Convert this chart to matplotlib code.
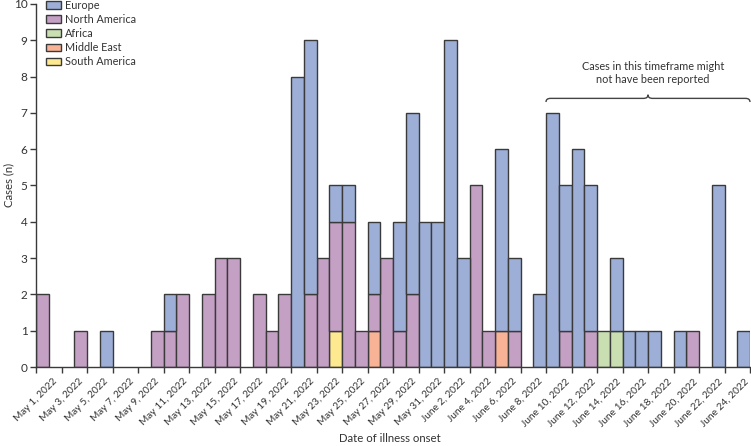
import matplotlib
matplotlib.use("Agg")
import matplotlib.pyplot as plt
from matplotlib.patches import Patch, PathPatch
from matplotlib.path import Path
from matplotlib import font_manager
import numpy as np

# ---------------- data ----------------
n_days = 56  # May 1, 2022 ... June 25, 2022
europe_cases = {5: 1, 10: 1, 20: 8, 21: 7, 23: 1, 24: 1, 26: 2, 28: 3, 29: 5, 30: 4,
                31: 4, 32: 9, 33: 3, 36: 5, 37: 2, 39: 2, 40: 7, 41: 4, 42: 6, 43: 4,
                45: 2, 46: 1, 47: 1, 48: 1, 50: 1, 53: 5, 55: 1}
north_america_cases = {0: 2, 3: 1, 9: 1, 10: 1, 11: 2, 13: 2, 14: 3, 15: 3, 17: 2, 18: 1,
                       19: 2, 21: 2, 22: 3, 23: 3, 24: 4, 25: 1, 26: 1, 27: 3, 28: 1, 29: 2,
                       34: 5, 35: 1, 37: 1, 41: 1, 43: 1, 51: 1}
africa_cases = {44: 1, 45: 1}
middle_east_cases = {26: 1, 36: 1}
south_america_cases = {23: 1}

tick_labels = ["May 1, 2022", "May 3, 2022", "May 5, 2022", "May 7, 2022", "May 9, 2022",
               "May 11, 2022", "May 13, 2022", "May 15, 2022", "May 17, 2022", "May 19, 2022",
               "May 21, 2022", "May 23, 2022", "May 25, 2022", "May 27, 2022", "May 29, 2022",
               "May 31, 2022", "June 2, 2022", "June 4, 2022", "June 6, 2022", "June 8, 2022",
               "June 10, 2022", "June 12, 2022", "June 14, 2022", "June 16, 2022",
               "June 18, 2022", "June 20, 2022", "June 22, 2022", "June 24, 2022"]

brace_start, brace_end = 40, 56
note_text = "Cases in this timeframe might\nnot have been reported"

def to_array(d):
    a = np.zeros(n_days)
    for k, v in d.items():
        a[k] = v
    return a

# bottom -> top stacking order
series = [
    ("South America", to_array(south_america_cases), "#FDE98F"),
    ("Middle East", to_array(middle_east_cases), "#F8B397"),
    ("Africa", to_array(africa_cases), "#C9DFB2"),
    ("North America", to_array(north_america_cases), "#C5A0C5"),
    ("Europe", to_array(europe_cases), "#9DAFD7"),
]

# ---------------- fonts ----------------
available = {f.name for f in font_manager.fontManager.ttflist}
fam = "Liberation Sans Narrow" if "Liberation Sans Narrow" in available else "Lato"
plt.rcParams["font.family"] = [fam, "DejaVu Sans"]
text_color = "#333333"
edge = "#3a3a3a"

fig = plt.figure(figsize=(7.51, 4.46), dpi=100)
ax = fig.add_axes([36 / 751, (446 - 367) / 446, 714 / 751, 363 / 446])

x = np.arange(n_days)
bottom = np.zeros(n_days)
handles = {}
for name, vals, color in series:
    m = vals > 0
    ax.bar(x[m], vals[m], width=1.0, align="edge", bottom=bottom[m], color=color,
           edgecolor=edge, linewidth=1.0)
    handles[name] = Patch(facecolor=color, edgecolor=edge, linewidth=1.0)
    bottom += vals

ax.set_xlim(0, 56)
ax.set_ylim(0, 10)
ax.set_yticks(range(0, 11))
ax.set_xticks(np.arange(0, 57, 2))
ax.set_xticklabels(tick_labels + [""], rotation=45, ha="center", fontsize=7.3)
ax.tick_params(axis="both", colors=edge, labelcolor=text_color, length=4, width=1)
ax.tick_params(axis="y", labelsize=8.5, pad=2)
ax.tick_params(axis="x", pad=3)
for s in ["top", "right"]:
    ax.spines[s].set_visible(False)
for s in ["left", "bottom"]:
    ax.spines[s].set_color(edge)
    ax.spines[s].set_linewidth(1)

fig.text(390 / 751, (446 - 438) / 446, "Date of illness onset", ha="center", va="center",
         fontsize=8.2, color=text_color)
fig.text(9 / 751, (446 - 185) / 446, "Cases (n)", rotation=90, ha="center", va="center",
         fontsize=8.2, color=text_color)

order = ["Europe", "North America", "Africa", "Middle East", "South America"]
ax.legend([handles[o] for o in order], order, loc="upper left",
          bbox_to_anchor=(46 / 751, 1.0), bbox_transform=fig.transFigure,
          frameon=False, fontsize=7.8, handlelength=1.4, handleheight=0.7,
          handletextpad=0.35, labelspacing=0.28, borderpad=0, borderaxespad=0,
          labelcolor=text_color)

# brace
y0, dy, dx = 7.40, 0.10, 0.35
mid = (brace_start + brace_end) / 2
verts = [(brace_start, y0 - dy), (brace_start, y0), (brace_start + dx, y0),
         (mid - dx, y0), (mid, y0), (mid, y0 + dy),
         (mid, y0 + dy), (mid, y0), (mid + dx, y0),
         (brace_end - dx, y0), (brace_end, y0), (brace_end, y0 - dy)]
codes = [Path.MOVETO, Path.CURVE3, Path.CURVE3,
         Path.LINETO, Path.CURVE3, Path.CURVE3,
         Path.MOVETO, Path.CURVE3, Path.CURVE3,
         Path.LINETO, Path.CURVE3, Path.CURVE3]
ax.add_patch(PathPatch(Path(verts, codes), facecolor="none", edgecolor="#444444",
                       linewidth=1.0, clip_on=False))
ax.text(mid + 0.4, 8.1, note_text, ha="center", va="center", fontsize=7.8,
        color=text_color, linespacing=1.3)

fig.savefig("out.png", dpi=100)
